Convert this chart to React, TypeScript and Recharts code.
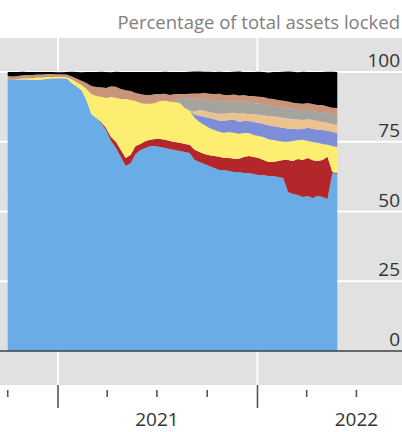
import React from 'react';
import { AreaChart, Area, XAxis, YAxis, CartesianGrid, ReferenceLine } from 'recharts';

const dates = [
  '2020-10-01', '2020-10-10', '2020-10-19', '2020-10-28', '2020-11-06', '2020-11-15', '2020-11-24', '2020-12-03',
  '2020-12-12', '2020-12-21', '2020-12-30', '2021-01-08', '2021-01-17', '2021-01-26', '2021-02-04', '2021-02-13',
  '2021-02-22', '2021-03-03', '2021-03-12', '2021-03-21', '2021-03-30', '2021-04-08', '2021-04-17', '2021-04-26',
  '2021-05-05', '2021-05-14', '2021-05-23', '2021-06-01', '2021-06-10', '2021-06-19', '2021-06-28', '2021-07-07',
  '2021-07-16', '2021-07-25', '2021-08-03', '2021-08-12', '2021-08-21', '2021-08-30', '2021-09-08', '2021-09-17',
  '2021-09-26', '2021-10-05', '2021-10-14', '2021-10-23', '2021-11-01', '2021-11-10', '2021-11-19', '2021-11-28',
  '2021-12-07', '2021-12-16', '2021-12-25', '2022-01-03', '2022-01-12', '2022-01-21', '2022-01-30', '2022-02-08',
  '2022-02-17', '2022-02-26', '2022-03-07', '2022-03-16', '2022-03-25', '2022-04-03', '2022-04-12', '2022-04-21',
  '2022-04-30', '2022-05-09', '2022-05-18', '2022-05-27',
];

const ethereum = [
  97.3, 97.3, 97.3, 97.3, 97.3, 97.1, 97.1, 97.3, 97.5, 97.7, 97.8, 97.8, 97.7, 96.1, 94.8, 93.5,
  90.0, 84.9, 83.5, 81.7, 79.2, 75.3, 72.8, 69.5, 66.3, 67.4, 70.6, 72.0, 72.8, 73.5, 73.5, 73.1,
  72.8, 72.4, 72.0, 71.7, 71.3, 71.0, 68.5, 67.7, 67.0, 66.3, 65.6, 64.9, 64.9, 64.5, 64.2, 64.2,
  63.8, 63.8, 63.4, 63.1, 63.1, 62.7, 62.7, 62.4, 62.0, 57.0, 56.3, 55.9, 55.2, 55.6, 54.8, 55.6,
  55.2, 54.5, 63.8, 63.4,
];
const terra = [
  0, 0, 0, 0, 0, 0, 0, 0, 0, 0, 0, 0, 0, 0, 0, 0,
  0, 0, 0, 0.4, 0.7, 1.4, 2.2, 2.5, 2.9, 2.9, 2.9, 2.2, 2.5, 2.2, 2.5, 2.9,
  2.9, 2.9, 2.9, 2.9, 2.9, 2.9, 3.6, 3.6, 3.6, 3.9, 4.3, 4.7, 4.3, 4.7, 4.7, 4.7,
  5.7, 6.1, 6.1, 6.1, 5.4, 5.0, 5.0, 5.7, 6.5, 11.5, 11.8, 12.9, 13.3, 13.6, 13.6, 12.5,
  13.3, 15.1, 0.4, 0.4,
];
const bsc = [
  0, 0, 0.2, 0.4, 0.5, 0.7, 0.9, 0.7, 0.7, 0.5, 0.5, 0.5, 0.5, 1.3, 1.6, 1.8,
  3.9, 7.2, 7.9, 9.0, 10.8, 14.3, 15.8, 18.3, 21.1, 19.7, 16.1, 14.7, 13.3, 12.9, 12.9, 13.6,
  14.0, 14.0, 14.3, 14.3, 12.9, 12.2, 11.5, 10.8, 10.4, 9.7, 9.3, 9.0, 9.0, 9.3, 9.3, 9.0,
  8.6, 8.2, 7.9, 7.9, 8.2, 8.2, 7.9, 7.2, 6.5, 6.5, 7.2, 6.8, 7.2, 6.1, 6.5, 6.5,
  5.7, 4.3, 9.3, 9.3,
];
const avalanche = [
  0, 0, 0, 0, 0, 0, 0, 0, 0, 0, 0, 0, 0, 0, 0, 0,
  0, 0, 0, 0, 0, 0, 0, 0, 0, 0, 0, 0, 0, 0, 0, 0,
  0, 0, 0, 0, 0, 0, 1.1, 2.2, 2.9, 3.6, 3.9, 3.9, 4.3, 4.3, 4.7, 4.3,
  4.3, 4.3, 4.7, 4.7, 4.7, 5.0, 5.0, 5.0, 5.0, 4.7, 4.3, 3.9, 3.9, 4.7, 4.7, 4.7,
  5.0, 5.0, 5.0, 5.0,
];
const solana = [
  0, 0, 0, 0, 0, 0, 0, 0, 0, 0, 0, 0, 0, 0, 0, 0,
  0, 0, 0, 0, 0, 0, 0, 0, 0, 0, 0, 0, 0, 0, 0, 0,
  0, 0, 0, 0, 0, 0, 1.1, 2.2, 2.2, 2.2, 2.2, 2.5, 2.5, 2.5, 2.5, 2.9,
  2.9, 2.5, 2.9, 2.9, 3.2, 3.2, 3.6, 3.6, 3.6, 3.6, 3.6, 3.6, 3.2, 3.2, 3.2, 3.2,
  2.9, 2.9, 2.9, 2.9,
];
const fantom = [
  0, 0, 0, 0, 0, 0, 0, 0, 0, 0, 0, 0, 0, 0, 0, 0,
  0, 0, 0, 0, 0, 0, 0, 0, 0, 0, 0, 0, 0, 0, 0, 0,
  0, 0, 0, 1.8, 3.6, 4.3, 4.7, 3.6, 4.3, 4.3, 4.3, 4.7, 4.3, 4.3, 4.3, 4.3,
  4.3, 4.3, 3.9, 3.9, 3.9, 3.9, 3.6, 3.6, 3.6, 3.6, 3.6, 3.2, 3.6, 3.2, 3.2, 3.2,
  3.6, 3.6, 3.6, 3.6,
];
const polygon = [
  1.3, 1.1, 1.1, 1.1, 1.1, 1.1, 1.1, 1.1, 1.1, 1.1, 0.9, 0.9, 0.9, 1.1, 1.3, 1.6,
  2.2, 2.9, 3.2, 3.4, 3.6, 3.9, 3.9, 3.6, 3.2, 3.2, 2.9, 3.2, 3.2, 3.2, 3.2, 2.5,
  2.5, 2.5, 2.9, 1.4, 1.4, 1.8, 1.8, 2.2, 2.2, 2.2, 2.5, 2.5, 2.5, 2.2, 2.2, 2.2,
  2.2, 2.2, 2.5, 2.5, 2.5, 2.5, 2.5, 2.5, 2.5, 2.5, 2.2, 2.5, 2.2, 2.5, 2.5, 2.5,
  2.5, 2.2, 2.2, 2.5,
];
const others = [
  1.4, 1.6, 1.4, 1.3, 1.1, 1.1, 0.9, 0.9, 0.7, 0.7, 0.7, 0.7, 0.9, 1.6, 2.3, 3.0,
  3.9, 5.0, 5.4, 5.6, 5.7, 5.0, 5.4, 6.1, 6.5, 6.8, 7.5, 7.9, 8.2, 8.2, 7.9, 7.9,
  7.9, 8.2, 7.9, 7.9, 7.9, 7.9, 7.9, 7.9, 7.5, 7.9, 7.9, 7.9, 8.2, 8.2, 8.2, 8.6,
  8.2, 8.6, 8.6, 9.0, 9.0, 9.3, 9.7, 10.0, 10.4, 10.8, 11.1, 11.1, 11.5, 11.1, 11.5, 11.8,
  11.8, 12.5, 12.9, 12.9,
];

const quarterTicks = [
  '2020-10-01', '2021-01-01', '2021-04-01', '2021-07-01',
  '2021-10-01', '2022-01-01', '2022-04-01', '2022-07-01',
];
const yearLabels: Record<string, string> = { '2021-07-01': '2021', '2022-07-01': '2022' };
const yearStarts = ['2021-01-01', '2022-01-01'];
const yTicks = [0, 25, 50, 75, 100];
const subtitle = 'Percentage of total assets locked';

const ts = (d: string) => new Date(d + 'T00:00:00Z').getTime();

const data = dates.map((d, i) => ({
  t: ts(d),
  ethereum: ethereum[i],
  terra: terra[i],
  bsc: bsc[i],
  avalanche: avalanche[i],
  solana: solana[i],
  fantom: fantom[i],
  polygon: polygon[i],
  others: others[i],
}));

const series = [
  { key: 'ethereum', color: '#69ace6' },
  { key: 'terra', color: '#b3262a' },
  { key: 'bsc', color: '#fdee72' },
  { key: 'avalanche', color: '#7c8ed8' },
  { key: 'solana', color: '#ebc391' },
  { key: 'fantom', color: '#a4a49c' },
  { key: 'polygon', color: '#c8957b' },
  { key: 'others', color: '#000000' },
];

const W = 402;
const H = 432;
const FONT = '"Open Sans", "Noto Sans", sans-serif';
const X_DOMAIN = [ts('2020-09-16') + 21.6 * 3600e3, ts('2022-09-22') + 10 * 3600e3];

const XTick = (props: any) => {
  const { x, y, payload } = props;
  const iso = new Date(payload.value).toISOString().slice(0, 10);
  const major = iso.endsWith('-01-01');
  const label = yearLabels[iso];
  return (
    <g>
      <line
        x1={x}
        x2={x}
        y1={major ? y : y + 5}
        y2={major ? y + 23 : y + 12}
        stroke="#555"
        strokeWidth={1.6}
      />
      {label ? (
        <text x={x} y={y + 41} textAnchor="middle" fontSize={19} fill="#333" fontFamily={FONT}>
          {label}
        </text>
      ) : null}
    </g>
  );
};

const YTick = (props: any) => {
  const { y, payload } = props;
  return (
    <text x={W - 2} y={y - 5} textAnchor="end" fontSize={19} fill="#333" fontFamily={FONT}>
      {payload.value}
    </text>
  );
};

export default function App() {
  return (
    <div style={{ position: 'absolute', left: 0, top: 0, width: W, height: H, background: '#fff' }}>
      <AreaChart width={W} height={H} data={data} margin={{ top: 38, right: 0, bottom: 0, left: 0 }}>
        <CartesianGrid
          fill="#e1e1e1"
          stroke="#ffffff"
          strokeWidth={2}
          horizontalValues={[25, 50, 75, 100]}
          verticalValues={yearStarts.map(ts)}
        />
        <XAxis
          dataKey="t"
          type="number"
          domain={X_DOMAIN}
          allowDataOverflow
          ticks={quarterTicks.map(ts)}
          interval={0}
          height={47}
          axisLine={false}
          tickLine={false}
          tickSize={0}
          tickMargin={0}
          tick={<XTick />}
        />
        <YAxis
          orientation="right"
          mirror
          type="number"
          domain={[-12.19, 112.19]}
          allowDataOverflow
          ticks={yTicks}
          interval={0}
          axisLine={false}
          tickLine={false}
          tickSize={0}
          tickMargin={0}
          tick={<YTick />}
        />
        {series.map((s) => (
          <Area
            key={s.key}
            type="linear"
            dataKey={s.key}
            stackId="1"
            stroke="none"
            fill={s.color}
            fillOpacity={1}
            isAnimationActive={false}
            dot={false}
            activeDot={false}
          />
        ))}
        <ReferenceLine y={0} stroke="#37424d" strokeWidth={1.5} />
      </AreaChart>
      <svg
        width={W}
        height={40}
        style={{ position: 'absolute', left: 0, top: 0, pointerEvents: 'none' }}
      >
        <text x={W - 2} y={29} textAnchor="end" fontSize={18.5} fill="#808080" fontFamily={FONT}>
          {subtitle}
        </text>
      </svg>
    </div>
  );
}
